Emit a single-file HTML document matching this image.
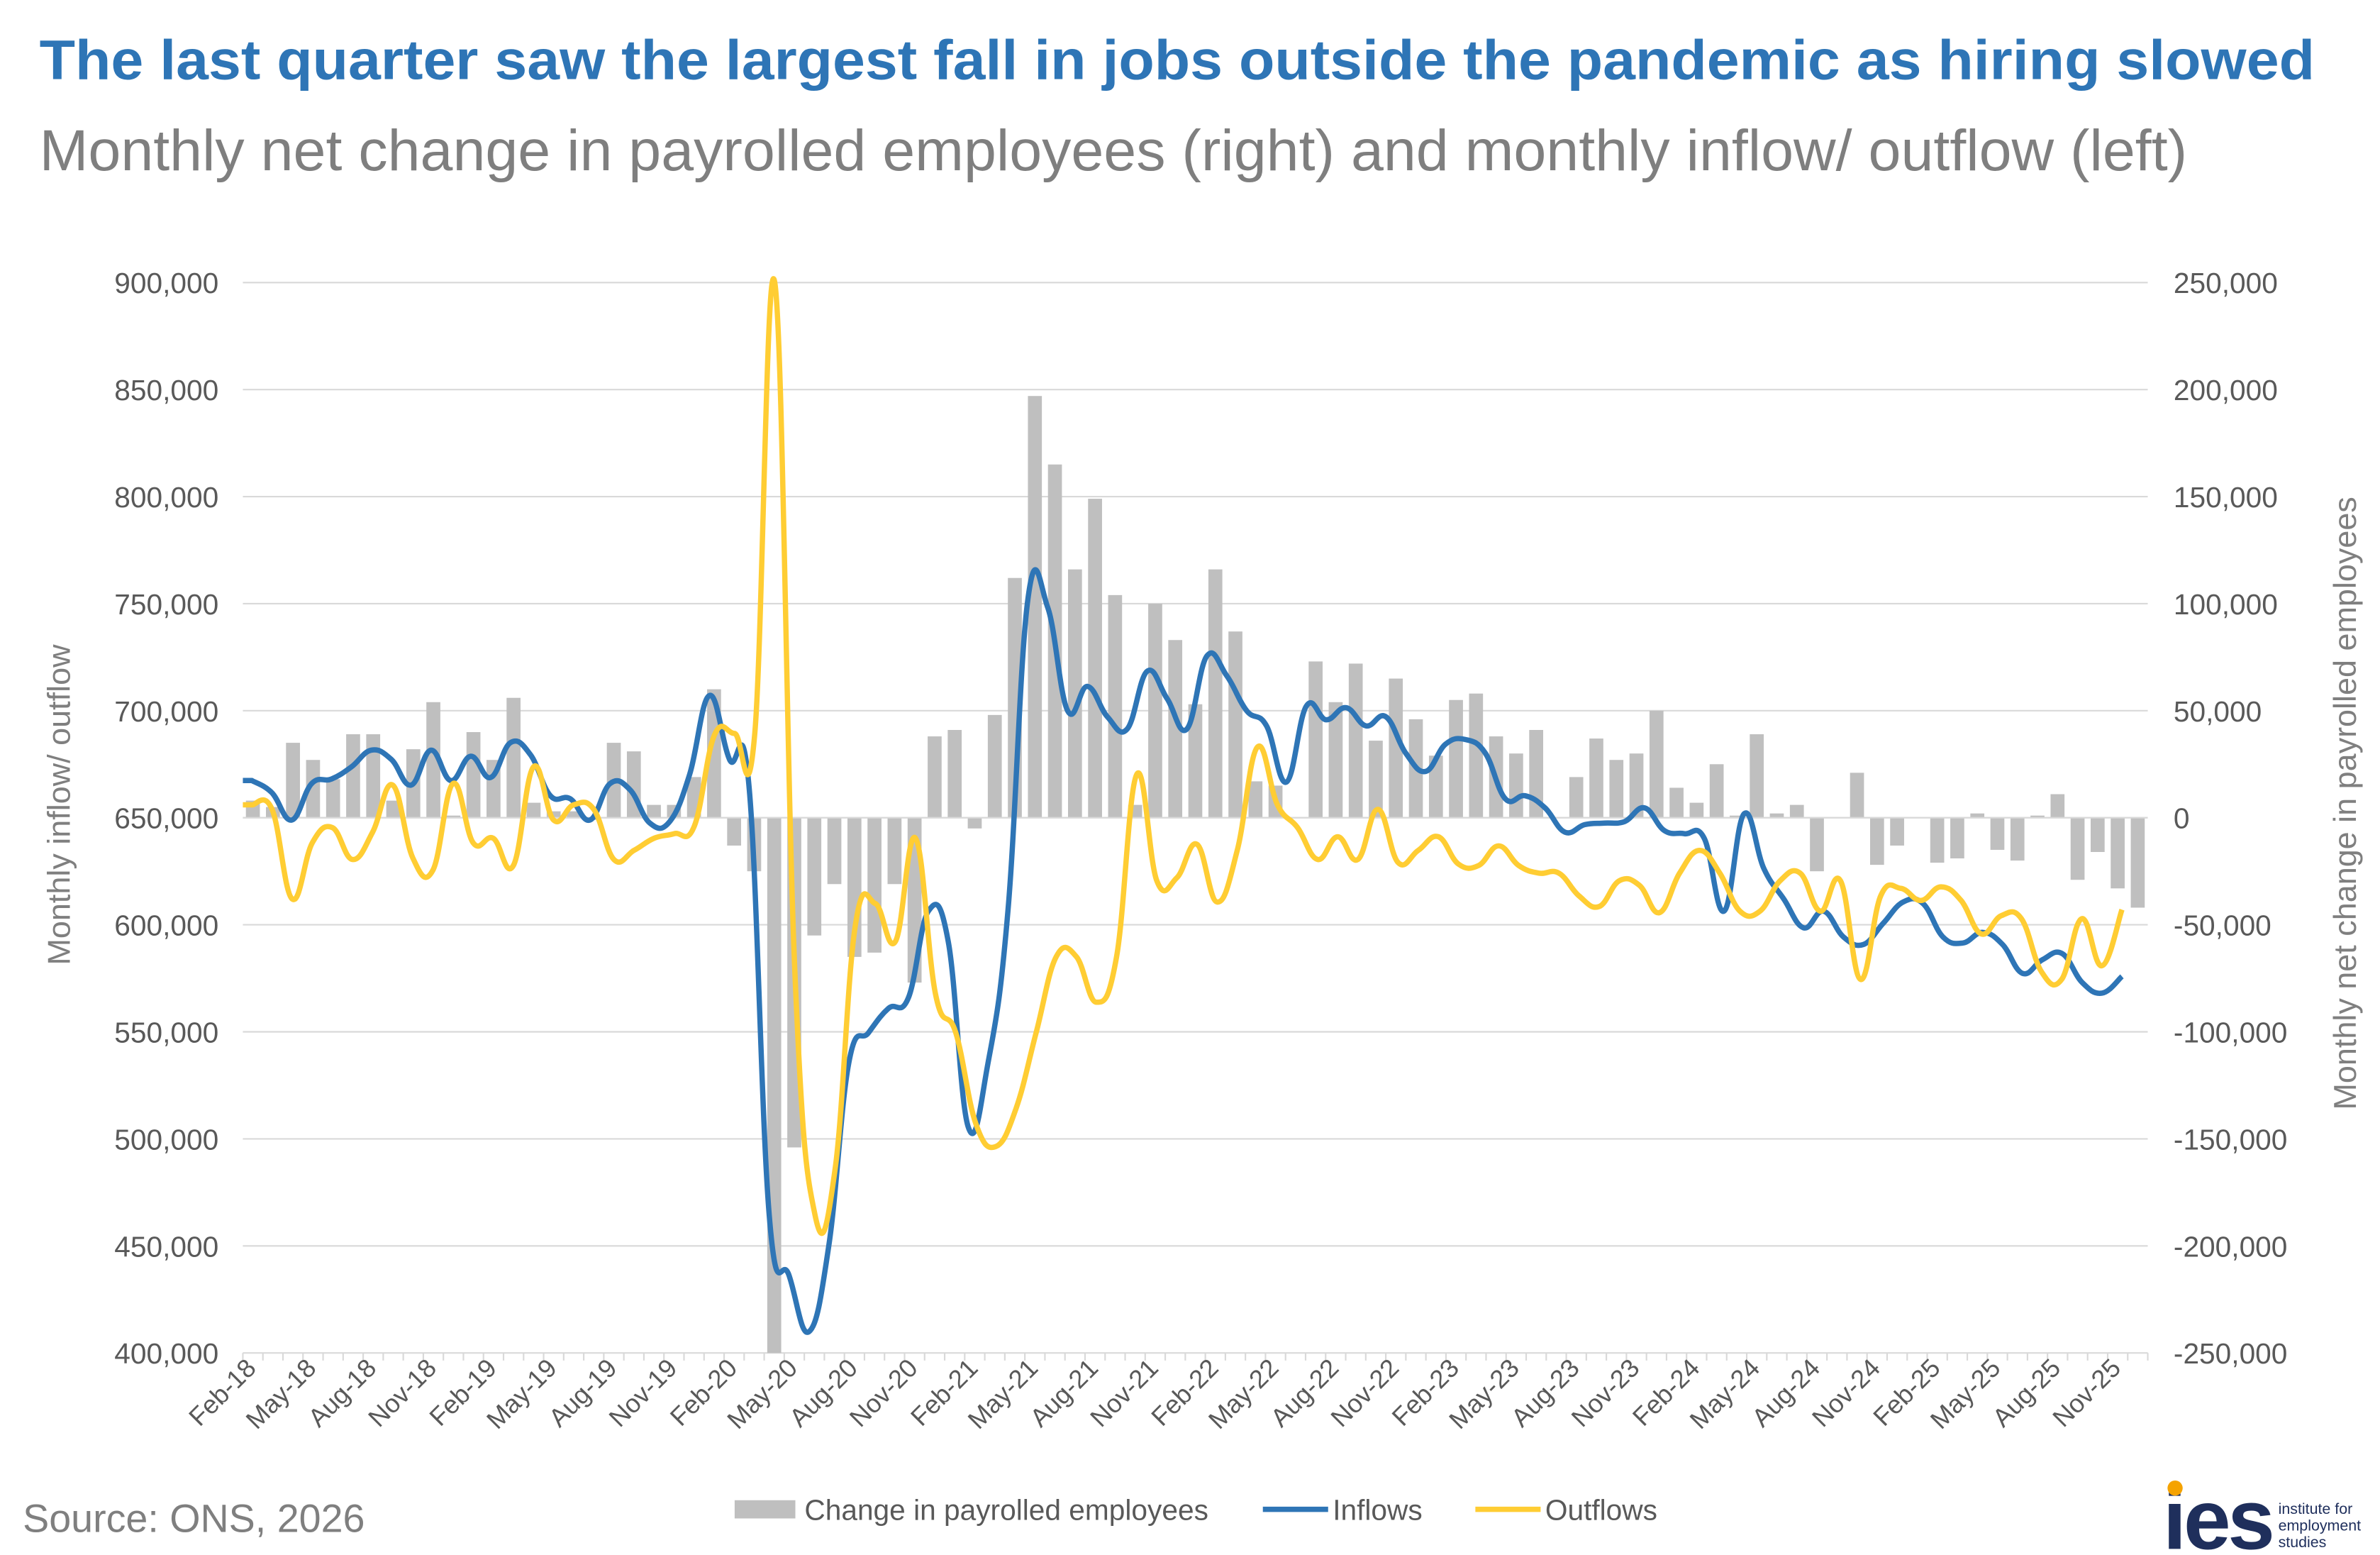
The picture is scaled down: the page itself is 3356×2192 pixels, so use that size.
<!DOCTYPE html>
<html><head><meta charset="utf-8"><style>
html,body{margin:0;padding:0;background:#fff;}
svg{display:block;font-family:"Liberation Sans",Arial,sans-serif;}
</style></head><body>
<svg id="c" width="3356" height="2192" viewBox="0 0 1568 1024" xmlns="http://www.w3.org/2000/svg">
<rect width="1568" height="1024" fill="#fff"/>
<text x="26" y="52" font-size="37" font-weight="bold" fill="#2e75b6" textLength="1499" lengthAdjust="spacingAndGlyphs">The last quarter saw the largest fall in jobs outside the pandemic as hiring slowed</text>
<text x="26" y="112" font-size="38" fill="#7f7f7f" textLength="1415" lengthAdjust="spacingAndGlyphs">Monthly net change in payrolled employees (right) and monthly inflow/ outflow (left)</text>
<g id="grid" stroke="#d9d9d9" stroke-width="1"></g>
<g id="ylab" font-size="19" fill="#595959"></g>
<g id="bars" fill="#bfbfbf"></g>
<line x1="160" y1="538.5" x2="1415" y2="538.5" stroke="#d9d9d9"/>
<path id="inf" fill="none" stroke="#2e75b6" stroke-width="3.5" stroke-linejoin="round"/>
<path id="outf" fill="none" stroke="#ffcd33" stroke-width="3.5" stroke-linejoin="round"/>
<g id="xlab" font-size="17" fill="#595959"></g>
<text transform="translate(46,530) rotate(-90)" text-anchor="middle" font-size="21" fill="#7f7f7f">Monthly inflow/ outflow</text>
<text transform="translate(1552,529) rotate(-90)" text-anchor="middle" font-size="21" fill="#7f7f7f">Monthly net change in payrolled employees</text>
<rect x="484" y="988" width="40" height="12" fill="#bfbfbf"/>
<text x="530" y="1001" font-size="19" fill="#595959">Change in payrolled employees</text>
<line x1="832" y1="994" x2="875" y2="994" stroke="#2e75b6" stroke-width="3.5"/>
<text x="878" y="1001" font-size="19" fill="#595959">Inflows</text>
<line x1="972" y1="994" x2="1015" y2="994" stroke="#ffcd33" stroke-width="3.5"/>
<text x="1018" y="1001" font-size="19" fill="#595959">Outflows</text>
<text x="15" y="1009" font-size="26" fill="#7f7f7f">Source: ONS, 2026</text>
<text x="1425" y="1020" font-size="56" font-weight="bold" fill="#1f2f5c" letter-spacing="-2">ies</text>
<circle cx="1433" cy="980" r="5" fill="#f5a300"/>
<text x="1501" y="997" font-size="10" fill="#1f2f5c">institute for</text>
<text x="1501" y="1008" font-size="10" fill="#1f2f5c">employment</text>
<text x="1501" y="1019" font-size="10" fill="#1f2f5c">studies</text>
</svg>
<script>
var NS="http://www.w3.org/2000/svg";
function el(p,t,a,txt){var e=document.createElementNS(NS,t);for(var k in a)e.setAttribute(k,a[k]);if(txt)e.textContent=txt;document.getElementById(p).appendChild(e);}
for(var i=0;i<=10;i++){var y=186+i*70.5;
 el("grid","line",{x1:160,x2:1415,y1:y,y2:y});
 var l=900000-i*50000;el("ylab","text",{x:144,y:y+7,"text-anchor":"end"},l.toLocaleString("en-US"));
 var r=250000-i*50000;el("ylab","text",{x:1432,y:y+7},r.toLocaleString("en-US"));}
var bars=[8,5,35,27,18,39,39,8,32,54,1,40,27,56,7,3,3,-1,35,31,6,6,19,60,-13,-25,-250,-154,-55,-31,-65,-63,-31,-77,38,41,-5,48,112,197,165,116,149,104,6,100,83,53,116,87,17,15,0,73,54,72,36,65,46,29,55,58,38,30,41,0,19,37,27,30,50,14,7,25,1,39,2,6,-25,0,21,-22,-13,0,-21,-19,2,-15,-20,1,11,-29,-16,-33,-42];
var W=1255/95;
bars.forEach(function(v,i){var cx=160+W*(i+0.5);var h=v*1.41;var y=h>0?538.5-h:538.5;
 el("bars","rect",{x:cx-4.6,y:y,width:9.2,height:Math.abs(h)});});
var mons=["Feb","May","Aug","Nov"];
for(var k=0;k<32;k++){var idx=k*3;var cx=160+W*(idx+0.5)+3;var yr=18+Math.floor(k/4);
 el("xlab","text",{transform:"translate("+cx+",902) rotate(-45)","text-anchor":"end"},mons[k%4]+"-"+yr);}
for(var k=0;k<=95;k++){var x=160+W*k;el("grid","line",{x1:x,x2:x,y1:891,y2:896});}
var inf=[514,522,540,516,513,505,494,500,517,494,514,498,512,489,497,524,526,540,516,520,542,541,510,458,500,520,800,840,877,820,700,680,664,657,600,620,742,700,600,395,400,468,452,472,480,442,460,480,432,445,468,478,515,465,474,466,478,472,496,508,490,487,496,526,524,532,548,543,542,541,532,547,549,552,600,536,572,592,611,600,617,622,608,594,595,617,621,614,622,641,632,628,647,654,643];
var out=[530,533,592,555,545,566,548,517,565,573,516,555,552,570,505,540,530,533,566,560,552,549,544,484,483,484,186,640,800,770,610,595,620,552,655,680,740,755,730,680,630,630,660,630,510,580,578,556,594,560,492,530,545,566,551,566,533,568,560,551,569,570,557,570,575,575,590,597,580,583,601,575,560,575,600,600,580,575,600,580,645,590,585,593,584,593,615,603,605,640,645,605,636,599];
function path(a){var st=1232/(a.length-1);var P=a.map(function(y,i){return [166+st*i,y];});
 var d="M160,"+P[0][1]+" L"+P[0][0]+","+P[0][1];var t=0.2;
 for(var i=0;i<P.length-1;i++){var p0=P[i-1]||P[i],p1=P[i],p2=P[i+1],p3=P[i+2]||P[i+1];
  d+=" C"+(p1[0]+(p2[0]-p0[0])*t)+","+(p1[1]+(p2[1]-p0[1])*t)+" "+(p2[0]-(p3[0]-p1[0])*t)+","+(p2[1]-(p3[1]-p1[1])*t)+" "+p2[0]+","+p2[1];}
 return d;}
document.getElementById("inf").setAttribute("d",path(inf));
document.getElementById("outf").setAttribute("d",path(out));
</script>
</body></html>
